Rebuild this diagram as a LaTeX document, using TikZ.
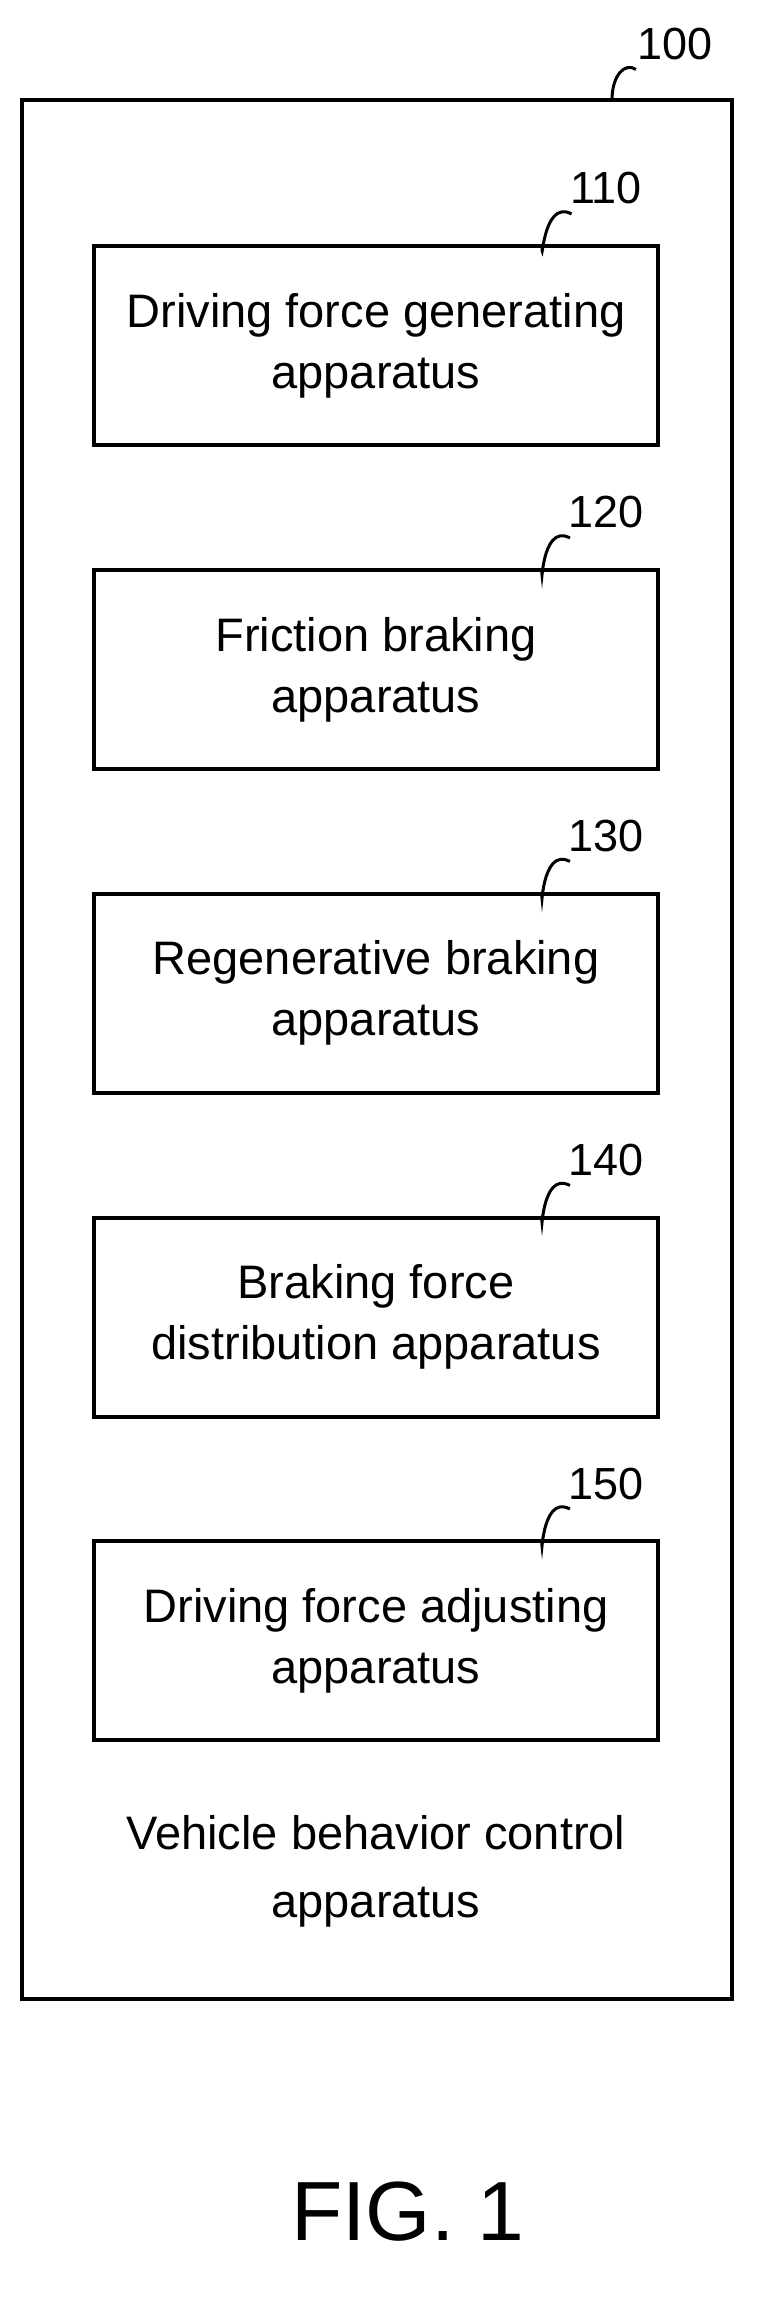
\documentclass[tikz,border=0pt]{standalone}
\usepackage{fontspec}
\setmainfont{Liberation Sans}
\begin{document}
\begin{tikzpicture}[x=1pt,y=-1pt,
  blk/.style={draw,line width=4pt,minimum width=564pt,minimum height=199pt,align=center,font=\fontsize{47}{61}\selectfont},
  lbl/.style={font=\fontsize{45}{50}\selectfont},
  lead/.style={line width=3pt}]
\useasboundingbox (0,0) rectangle (766,2323);
\node[draw,line width=4pt,minimum width=710pt,minimum height=1899pt] (outer) at (377,1049.5) {};
\node[lbl] (l100) at (675,44) {100};
\coordinate (c100) at (612,100);
\draw[lead] (c100) .. controls (612,75) and (625,62) .. ([xshift=2pt,yshift=-6pt]l100.south west);
\foreach \i/\y/\t/\n in {1/345.5/{Driving force generating\\apparatus}/110,
  2/669.5/{Friction braking\\apparatus}/120,
  3/993/{Regenerative braking\\apparatus}/130,
  4/1317/{Braking force\\distribution apparatus}/140,
  5/1640.5/{Driving force adjusting\\apparatus}/150}{
  \node[blk] (b\i) at (376,\y) {\t};
  \node[lbl] (n\i) at (606,\y-157) {\n};
  \draw[lead] ([xshift=166pt]b\i.north) .. controls ([xshift=166pt,yshift=-30pt]b\i.north) and ([xshift=-25pt,yshift=10pt]n\i.south west) .. ([xshift=5pt,yshift=-6pt]n\i.south west);
}
\node[align=center,font=\fontsize{47}{68}\selectfont] (vb) at (376,1871) {Vehicle behavior control\\apparatus};
\node[font=\fontsize{84}{90}\selectfont] (fig) at (408,2212) {FIG. 1};
\end{tikzpicture}
\end{document}
